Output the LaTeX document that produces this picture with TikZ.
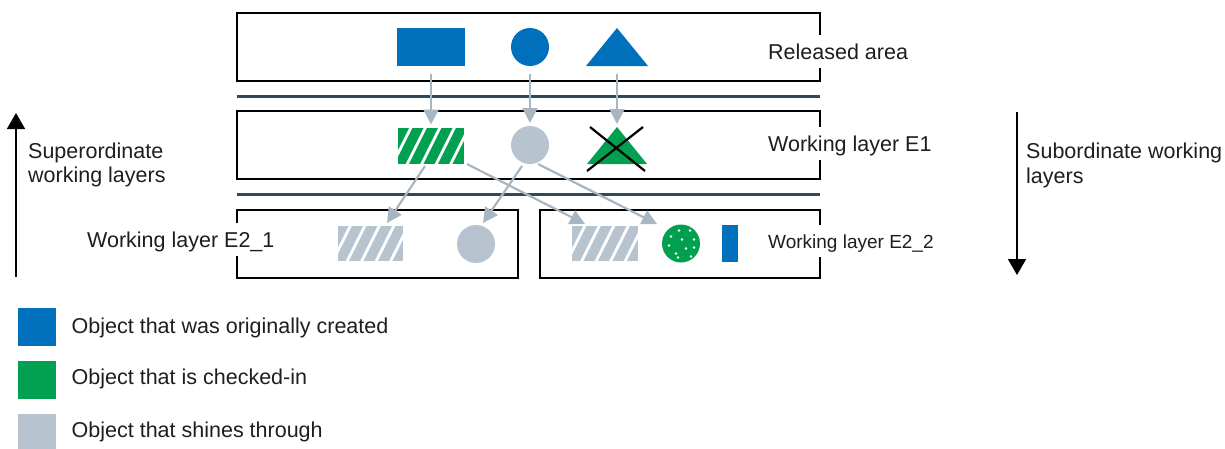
\documentclass[tikz,border=0pt]{standalone}
\usepackage{fontspec}
\setmainfont{Liberation Sans}
\usetikzlibrary{arrows.meta,calc}
\definecolor{objblue}{HTML}{0070BD}
\definecolor{objgreen}{HTML}{00A050}
\definecolor{objgrey}{HTML}{B7C4CF}
\definecolor{arrgrey}{HTML}{A8B6C2}
\definecolor{sepcol}{HTML}{2F4B5B}
\definecolor{txtcol}{HTML}{1E1E1E}
\begin{document}
\begin{tikzpicture}[x=1pt,y=-1pt,
  layerbox/.style={draw=black,line width=1.8pt,inner sep=0pt,outer sep=0pt,minimum height=68pt},
  sepline/.style={draw=sepcol,line width=3pt},
  lbl/.style={font=\fontsize{21.5}{25}\selectfont,text=txtcol,inner sep=0pt,anchor=base west},
  cutlbl/.style={lbl,fill=white,inner xsep=4pt,inner ysep=9pt,text height=15.5pt,text depth=0pt},
  obj/.style={inner sep=0pt,outer sep=0pt},
  hatch/.style={path picture={\foreach \s in {-43.5,-29,-14.5,0,14.5,29,43.5}{\draw[white,line width=2.8pt] ($(path picture bounding box.center)+(\s-12,24)$) -- ++(24,-48);}}},
  dots/.style={path picture={\foreach \a/\b in {-2/-13,9/-13,-10/-7,1/-4,13/-4,-12/2,5/5,13/4,-5/10,10/13,-3/14}{\fill[white] ($(path picture bounding box.center)+(\a,\b)$) circle (1.3);}}},
  flow/.style={draw=arrgrey,line width=2.2pt,-{Triangle[length=15pt,width=15pt]}},
  bigarrow/.style={draw=black,line width=1.8pt,-{Triangle[length=16pt,width=18pt]}}
]
\useasboundingbox (0,0) rectangle (1225,448);

% layer boxes
\node[layerbox,minimum width=583pt] (rel) at (528.5,47) {};
\node[layerbox,minimum width=583pt] (e1) at (528.5,145) {};
\node[layerbox,minimum width=281pt] (e21) at (377.5,244) {};
\node[layerbox,minimum width=280pt] (e22) at (680,244) {};

% separators
\coordinate (s1a) at (237,96); \coordinate (s1b) at (820,96);
\coordinate (s2a) at (237,194); \coordinate (s2b) at (820,194);
\draw[sepline] (s1a) -- (s1b);
\draw[sepline] (s2a) -- (s2b);

% layer labels
\node[cutlbl] (lrel) at (764,59) {Released area};
\node[cutlbl] (le1) at (764,151) {Working layer E1};
\node[cutlbl,font=\fontsize{19}{23}\selectfont,text height=14pt] (le22) at (764,248) {Working layer E2\_2};
\node[cutlbl] (le21) at (83,247) {Working layer E2\_1};

% released row
\node[obj,fill=objblue,minimum width=68pt,minimum height=38pt] (b1) at (431,47) {};
\node[obj,circle,fill=objblue,minimum size=38pt] (b2) at (530,47) {};
\node[obj,minimum width=62pt,minimum height=38pt] (b3) at (617,47) {};
\fill[objblue] (b3.south west) -- (b3.south east) -- (b3.north) -- cycle;

% E1 row
\node[obj,fill=objgreen,minimum width=66pt,minimum height=36pt,hatch] (g1) at (431,145.5) {};
\node[obj,circle,fill=objgrey,minimum size=38pt] (c1) at (530,145) {};
\node[obj,minimum width=60pt,minimum height=37pt] (t2) at (617,145.5) {};
\fill[objgreen] (t2.south west) -- (t2.south east) -- (t2.north) -- cycle;
\draw[black,line width=2.2pt] ($(t2.center)+(-27,-18.5)$) -- ($(t2.center)+(28,25.5)$);
\draw[black,line width=2.2pt] ($(t2.center)+(26,-18.5)$) -- ($(t2.center)+(-30,25.5)$);

% E2 row
\node[obj,fill=objgrey,minimum width=65pt,minimum height=35pt,hatch] (h1) at (370.5,243.5) {};
\node[obj,circle,fill=objgrey,minimum size=38pt] (c2) at (476,244) {};
\node[obj,fill=objgrey,minimum width=66pt,minimum height=35pt,hatch] (h2) at (605,243.5) {};
\node[obj,circle,fill=objgreen,minimum size=38pt,dots] (d1) at (681,243.5) {};
\node[obj,fill=objblue,minimum width=16pt,minimum height=37pt] (bar) at (730,243.5) {};

% flows
\draw[flow] ([yshift=-8pt]b1.south) -- ([yshift=3pt]g1.north);
\draw[flow] ([yshift=-8pt]b2.south) -- ([yshift=3pt]c1.north);
\draw[flow] ([yshift=-8pt]b3.south) -- ([yshift=3pt]t2.north);
\draw[flow] ([xshift=-6pt,yshift=-2.5pt]g1.south) -- ([xshift=16.5pt,yshift=3pt]h1.north);
\draw[flow] ([xshift=3pt,yshift=-0.5pt]g1.south east) -- ([xshift=-20pt,yshift=2pt]h2.north);
\draw[flow] ([xshift=-8pt,yshift=-2pt]c1.south) -- ([xshift=7pt,yshift=2pt]c2.north);
\draw[flow] ([xshift=8pt]c1.south) -- ([xshift=-24pt,yshift=0.5pt]d1.north);

% side arrows
\coordinate (la0) at (16,277); \coordinate (la1) at (16,113);
\draw[bigarrow] (la0) -- (la1);
\node[lbl] (sup1) at (28,158) {Superordinate};
\node[lbl] (sup2) at (28,182) {working layers};
\coordinate (ra0) at (1017,112); \coordinate (ra1) at (1017,275);
\draw[bigarrow] (ra0) -- (ra1);
\node[lbl] (sub1) at (1026,158) {Subordinate working};
\node[lbl] (sub2) at (1026,183) {layers};

% legend
\node[obj,fill=objblue,minimum size=38pt] (lg1) at (37,327) {};
\node[obj,fill=objgreen,minimum size=38pt] (lg2) at (37,380) {};
\node[obj,fill=objgrey,minimum size=38pt] (lg3) at (37,433) {};
\node[lbl] (lt1) at (71.5,333) {Object that was originally created};
\node[lbl] (lt2) at (71.5,384) {Object that is checked-in};
\node[lbl] (lt3) at (71.5,437) {Object that shines through};
\end{tikzpicture}
\end{document}
